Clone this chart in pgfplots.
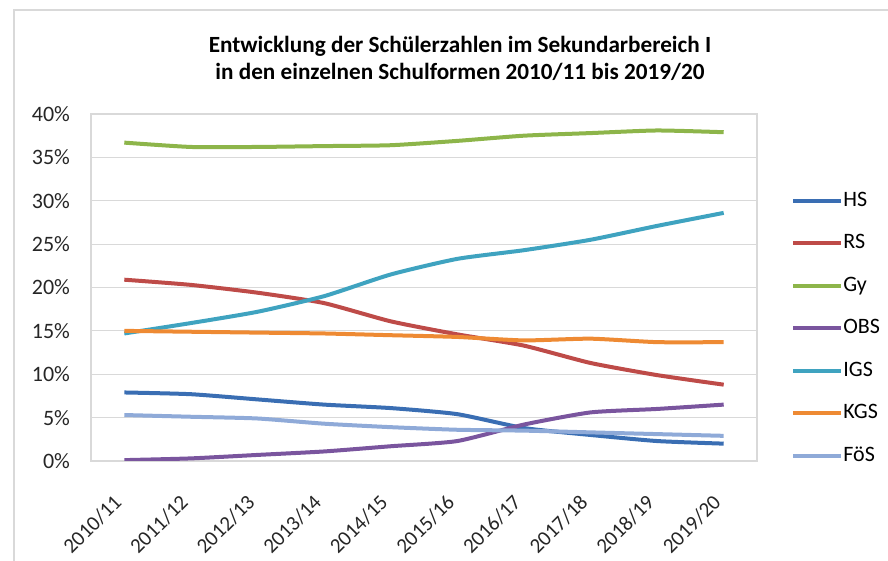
\documentclass[border=0pt]{standalone}
\usepackage{fontspec}
\setmainfont{Carlito}
\usepackage{pgfplots}
\pgfplotsset{compat=1.18}
\definecolor{cHS}{HTML}{3A6EB3}
\definecolor{cRS}{HTML}{BE4B48}
\definecolor{cGy}{HTML}{8DB54A}
\definecolor{cOBS}{HTML}{7A559E}
\definecolor{cIGS}{HTML}{3FA3C0}
\definecolor{cKGS}{HTML}{EE8A33}
\definecolor{cFoS}{HTML}{8FAAD8}
\definecolor{gridc}{HTML}{D9D9D9}
\begin{document}
\begin{tikzpicture}
\path[use as bounding box] (0pt,0pt) rectangle (444pt,280.5pt);
\draw[gridc, line width=0.6pt] (7pt,0pt) -- (7pt,275.5pt) -- (444pt,275.5pt);
\node[font=\bfseries\fontsize{11.6}{13.5}\selectfont, align=center] at (230pt,251.5pt) {Entwicklung der Schülerzahlen im Sekundarbereich I\\in den einzelnen Schulformen 2010/11 bis 2019/20};
\begin{axis}[
  at={(45.5pt,50pt)}, anchor=south west,
  width=333pt, height=173.5pt, scale only axis,
  xmin=-0.5, xmax=9.5, ymin=0, ymax=40,
  xtick={0,...,9},
  xticklabels={2010/11,2011/12,2012/13,2013/14,2014/15,2015/16,2016/17,2017/18,2018/19,2019/20},
  ytick={0,5,...,40},
  yticklabels={0\%,5\%,10\%,15\%,20\%,25\%,30\%,35\%,40\%},
  major tick length=0pt,
  axis line style={gridc, line width=0.6pt},
  ymajorgrids, grid style={gridc, line width=0.6pt},
  tick label style={font=\fontsize{11}{12}\selectfont, text=black!85},
  yticklabel style={xshift=-7pt},
  xticklabel style={xshift=-6pt, yshift=-16pt, rotate=45, anchor=north east, inner sep=0pt, font=\fontsize{10.5}{12}\selectfont},
  /pgf/number format/assume math mode=true,
  every axis plot/.append style={line width=2pt, smooth, tension=0.35},
  legend style={draw=none, fill=none, at={(1.051,0.382)}, anchor=west, inner sep=0pt,
    font=\fontsize{11}{12}\selectfont, row sep=12.65pt,
    nodes={inner sep=0pt, text height=1.45ex, text depth=0.35ex}},
  legend cell align=left,
  legend image code/.code={\draw[#1, line width=2pt, sharp plot] (0pt,0pt) -- (24pt,0pt);},
  /tikz/every even column/.append style={column sep=2pt},
]
\addplot[cHS] coordinates {(0,7.9)(1,7.7)(2,7.1)(3,6.5)(4,6.1)(5,5.4)(6,3.8)(7,3.0)(8,2.3)(9,2.0)};
\addlegendentry{HS}
\addplot[cRS] coordinates {(0,20.9)(1,20.3)(2,19.4)(3,18.2)(4,16.1)(5,14.6)(6,13.3)(7,11.3)(8,9.9)(9,8.8)};
\addlegendentry{RS}
\addplot[cGy] coordinates {(0,36.7)(1,36.2)(2,36.2)(3,36.3)(4,36.4)(5,36.9)(6,37.5)(7,37.8)(8,38.1)(9,37.9)};
\addlegendentry{Gy}
\addplot[cOBS] coordinates {(0,0.1)(1,0.3)(2,0.7)(3,1.1)(4,1.7)(5,2.3)(6,4.2)(7,5.6)(8,6.0)(9,6.5)};
\addlegendentry{OBS}
\addplot[cIGS] coordinates {(0,14.7)(1,15.9)(2,17.2)(3,19.0)(4,21.5)(5,23.3)(6,24.3)(7,25.5)(8,27.1)(9,28.6)};
\addlegendentry{IGS}
\addplot[cKGS] coordinates {(0,15.0)(1,14.9)(2,14.8)(3,14.7)(4,14.5)(5,14.3)(6,13.9)(7,14.1)(8,13.7)(9,13.7)};
\addlegendentry{KGS}
\addplot[cFoS] coordinates {(0,5.3)(1,5.1)(2,4.9)(3,4.3)(4,3.9)(5,3.6)(6,3.5)(7,3.3)(8,3.1)(9,2.9)};
\addlegendentry{FöS}
\end{axis}
\end{tikzpicture}
\end{document}
